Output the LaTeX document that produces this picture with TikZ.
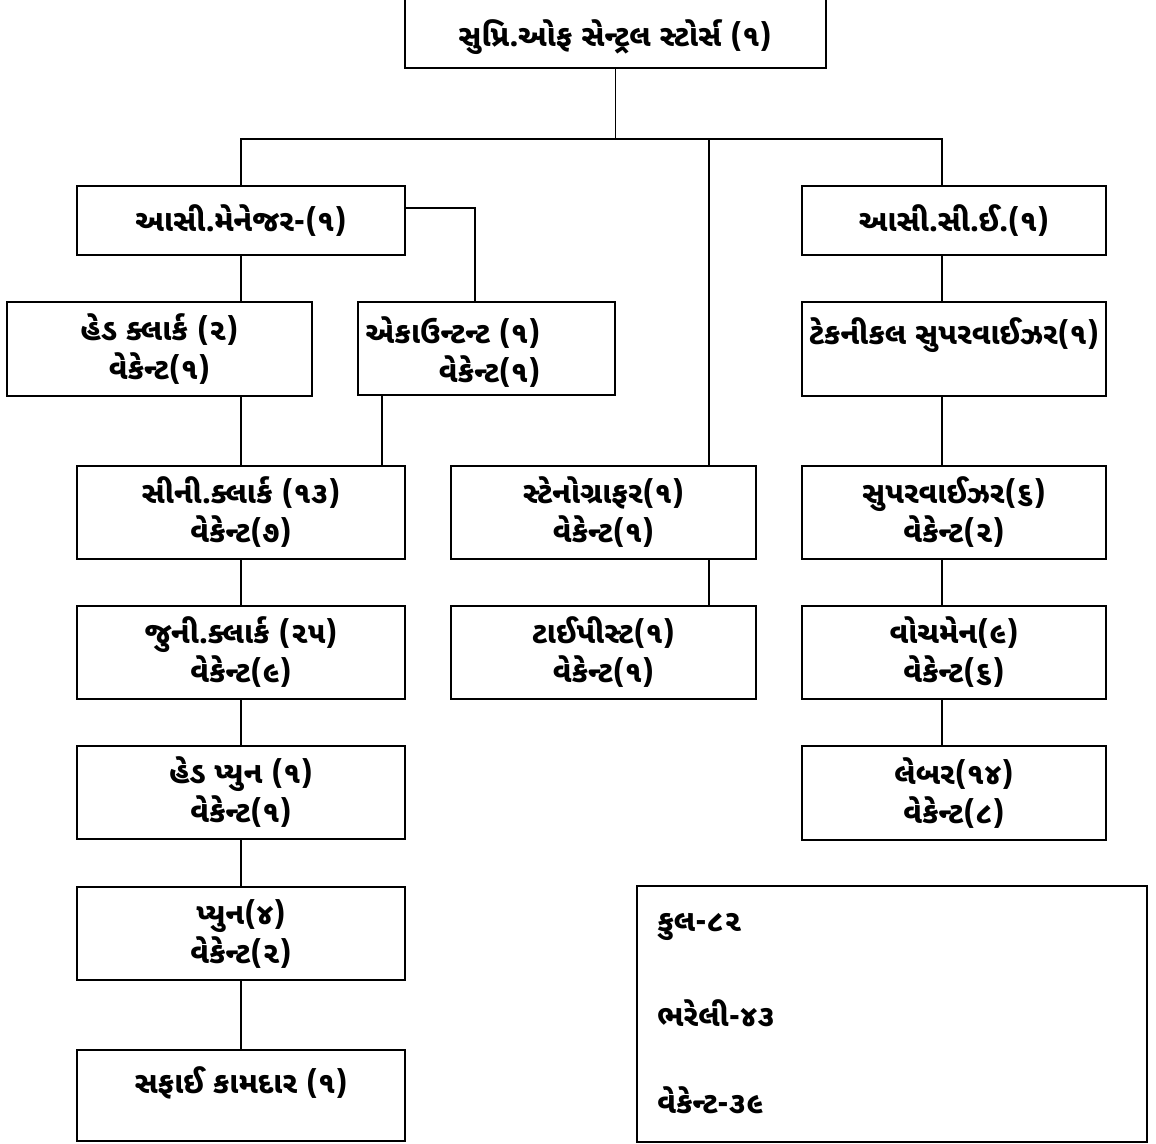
\documentclass[tikz,border=0pt]{standalone}
\usepackage{fontspec}
\newfontfamily\guj[Script=Gujarati]{Noto Sans Gujarati UI}
\usetikzlibrary{fit}
\begin{document}
\begin{tikzpicture}[x=0.5pt,y=-0.5pt,
  box/.style={draw=black, line width=1pt, inner sep=0pt, rectangle},
  txt/.style={font=\guj\bfseries\fontsize{15}{19.5}\selectfont, align=center, inner sep=0pt},
  link/.style={draw=black, line width=0.9pt}]
\useasboundingbox (0,0) rectangle (1156,1144);
\fill[white] (0,0) rectangle (1156,1144);
% boxes
\node[box, fit={(405,-5) (826,68)}] (top) {};
\node[box, fit={(77,186) (405,255)}] (am) {};
\node[box, fit={(802,186) (1106,255)}] (ace) {};
\node[box, fit={(7,302) (312,396)}] (hc) {};
\node[box, fit={(358,302) (615,395)}] (acc) {};
\node[box, fit={(802,302) (1106,396)}] (ts) {};
\node[box, fit={(77,466) (405,559)}] (sc) {};
\node[box, fit={(451,466) (756,559)}] (steno) {};
\node[box, fit={(802,466) (1106,559)}] (sup) {};
\node[box, fit={(77,606) (405,699)}] (jc) {};
\node[box, fit={(451,606) (756,699)}] (typ) {};
\node[box, fit={(802,606) (1106,699)}] (watch) {};
\node[box, fit={(77,746) (405,839)}] (hp) {};
\node[box, fit={(802,746) (1106,840)}] (lab) {};
\node[box, fit={(77,887) (405,980)}] (peon) {};
\node[box, fit={(77,1050) (405,1141)}] (sw) {};
\node[box, fit={(637,886) (1147,1142)}] (sum) {};
% texts
\node[txt] (topt) at (615,37) {સુપ્રિ.ઓફ સેન્ટ્રલ સ્ટોર્સ (૧)};
\node[txt] (amt) at (am.center) {આસી.મેનેજર-(૧)};
\node[txt] (acet) at (ace.center) {આસી.સી.ઈ.(૧)};
\node[txt] (hct) at (hc.center) {હેડ ક્લાર્ક (૨)\\વેકેન્ટ(૧)};
\node[txt, align=right] (acct) at (453,352) {એકાઉન્ટન્ટ (૧)\\વેકેન્ટ(૧)};
\node[txt] (tst) at (954,335) {ટેકનીકલ સુપરવાઈઝર(૧)};
\node[txt] (sct) at (sc.center) {સીની.ક્લાર્ક (૧૩)\\વેકેન્ટ(૭)};
\node[txt] (stenot) at (steno.center) {સ્ટેનોગ્રાફર(૧)\\વેકેન્ટ(૧)};
\node[txt] (supt) at (sup.center) {સુપરવાઈઝર(૬)\\વેકેન્ટ(૨)};
\node[txt] (jct) at (jc.center) {જુની.ક્લાર્ક (૨૫)\\વેકેન્ટ(૯)};
\node[txt] (typt) at (typ.center) {ટાઈપીસ્ટ(૧)\\વેકેન્ટ(૧)};
\node[txt] (watcht) at (watch.center) {વોચમેન(૯)\\વેકેન્ટ(૬)};
\node[txt] (hpt) at (hp.center) {હેડ પ્યુન (૧)\\વેકેન્ટ(૧)};
\node[txt] (labt) at (lab.center) {લેબર(૧૪)\\વેકેન્ટ(૮)};
\node[txt] (peont) at (peon.center) {પ્યુન(૪)\\વેકેન્ટ(૨)};
\node[txt] (swt) at (241,1083) {સફાઈ કામદાર (૧)};
\node[txt, anchor=west] (sum1) at (657,927) {કુલ-૮૨};
\node[txt, anchor=west] (sum2) at (657,1013) {ભરેલી-૪૩};
\node[txt, anchor=west] (sum3) at (657,1100) {વેકેન્ટ-૩૯};
% connector coordinates
\coordinate (busL) at (241,139);
\coordinate (busR) at (942,139);
\coordinate (tapS) at (709,139);
\coordinate (amR) at (475,208);
\coordinate (accX) at (382,430);
\coordinate (stX) at (709,580);
\coordinate (rX) at (942,600);
% connectors
\draw[link] (top.south) -- (top.south |- busL);
\draw[link] (am.north) -- (busL) -- (busR) -- (busR |- ace.north);
\draw[link] (tapS) -- (tapS |- steno.north);
\draw[link] (am.east |- amR) -- (amR) -- (amR |- acc.north);
\draw[link] (am.south) -- (am.south |- hc.north);
\draw[link] (sc.north |- hc.south) -- (sc.north);
\draw[link] (accX |- acc.south) -- (accX |- sc.north);
\draw[link] (sc.south) -- (jc.north);
\draw[link] (jc.south) -- (hp.north);
\draw[link] (hp.south) -- (peon.north);
\draw[link] (peon.south) -- (sw.north);
\draw[link] (stX |- steno.south) -- (stX |- typ.north);
\draw[link] (rX |- ace.south) -- (rX |- ts.north);
\draw[link] (rX |- ts.south) -- (rX |- sup.north);
\draw[link] (rX |- sup.south) -- (rX |- watch.north);
\draw[link] (rX |- watch.south) -- (rX |- lab.north);
\end{tikzpicture}
\end{document}
